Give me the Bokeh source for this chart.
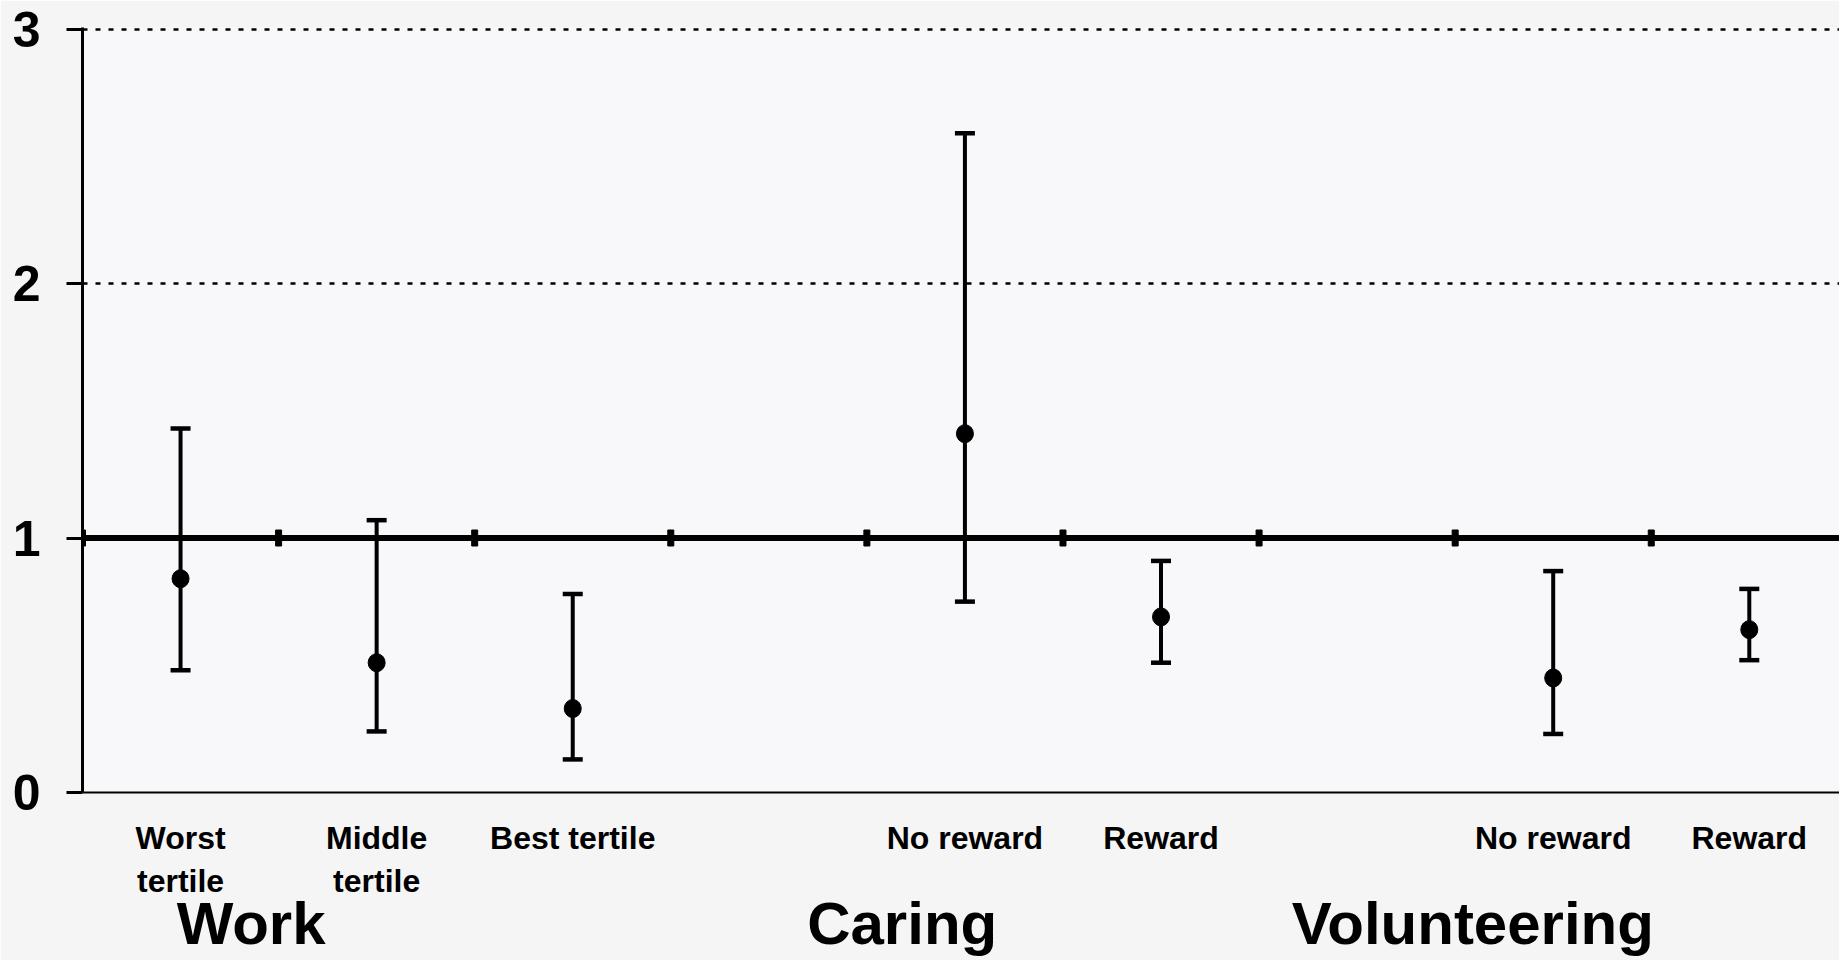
from bokeh.plotting import figure
from bokeh.models import (Range1d, FixedTicker, LinearAxis, Span, Whisker,
                          ColumnDataSource, TeeHead)
from bokeh.embed import file_html
from bokeh.resources import INLINE

# ---- data ----
slots = ["Worst\ntertile", "Middle\ntertile", "Best tertile", None,
         "No reward", "Reward", None, "No reward", "Reward"]
odds = [0.84, 0.51, 0.33, 1.41, 0.69, 0.45, 0.64]
lower = [0.48, 0.24, 0.13, 0.75, 0.51, 0.23, 0.52]
upper = [1.43, 1.07, 0.78, 2.59, 0.91, 0.87, 0.80]
groups = ["Work", "Caring", "Volunteering"]
group_label_x = [0.86, 4.18, 7.09]
y_ticks = [0, 1, 2, 3]
reference = 1

FONT = "Liberation Sans"

xs = [i + 0.5 for i, s in enumerate(slots) if s is not None]
cat_labels = {i + 0.5: s for i, s in enumerate(slots) if s is not None}
boundaries = list(range(len(slots)))

src = ColumnDataSource(dict(x=xs, odds=odds, lower=lower, upper=upper))

p = figure(width=1839, height=960, output_backend="svg", toolbar_location=None,
           x_range=Range1d(0, 8.96), y_range=Range1d(0, 3.006),
           min_border_left=82, min_border_right=0, min_border_top=27,
           min_border_bottom=168)
p.border_fill_color = "#f5f5f5"
p.background_fill_color = "#f8f7fa"
p.outline_line_color = None

# y axis
yax = p.yaxis[0]
yax.ticker = FixedTicker(ticks=y_ticks)
yax.axis_line_color = "black"
yax.axis_line_width = 3
yax.major_tick_line_color = "black"
yax.major_tick_line_width = 3
yax.major_tick_out = 16
yax.major_tick_in = 0
yax.minor_tick_line_color = None
yax.major_label_text_font = FONT
yax.major_label_text_font_style = "bold"
yax.major_label_text_font_size = "50px"
yax.major_label_text_color = "black"
yax.major_label_standoff = 26

# category axis
xax = p.xaxis[0]
xax.ticker = FixedTicker(ticks=xs)
xax.major_label_overrides = cat_labels
xax.axis_line_color = "black"
xax.axis_line_width = 2
xax.major_tick_line_color = None
xax.minor_tick_line_color = None
xax.major_label_text_font = FONT
xax.major_label_text_font_style = "bold"
xax.major_label_text_font_size = "32px"
xax.major_label_text_color = "black"
xax.major_label_standoff = 21

# group axis
gax = LinearAxis(ticker=FixedTicker(ticks=group_label_x),
                 major_label_overrides={gx: g for gx, g in zip(group_label_x, groups)})
gax.axis_line_color = None
gax.major_tick_line_color = None
gax.minor_tick_line_color = None
gax.major_label_text_font = FONT
gax.major_label_text_font_style = "bold"
gax.major_label_text_font_size = "60px"
gax.major_label_text_color = "black"
gax.major_label_standoff = -18
p.add_layout(gax, "below")

# grid
p.xgrid.grid_line_color = None
p.ygrid.ticker = FixedTicker(ticks=y_ticks)
p.ygrid.grid_line_color = "black"
p.ygrid.grid_line_width = 2.5
p.ygrid.grid_line_dash = "5 8"

# reference line with slot ticks
p.add_layout(Span(location=reference, dimension="width", line_color="black",
                  line_width=6))
p.rect(x=boundaries, y=[reference] * len(boundaries), width=6, height=16,
       width_units="screen", height_units="screen", color="black")

# error bars
w = Whisker(source=src, base="x", upper="upper", lower="lower",
            line_color="black", line_width=4,
            upper_head=TeeHead(size=20, line_width=4.5, line_color="black"),
            lower_head=TeeHead(size=20, line_width=4.5, line_color="black"))
p.add_layout(w)

p.ellipse(x="x", y="odds", width=17, height=18, width_units="screen",
          height_units="screen", color="black", source=src, level="overlay")

open("out.html", "w").write(file_html(p, INLINE))
